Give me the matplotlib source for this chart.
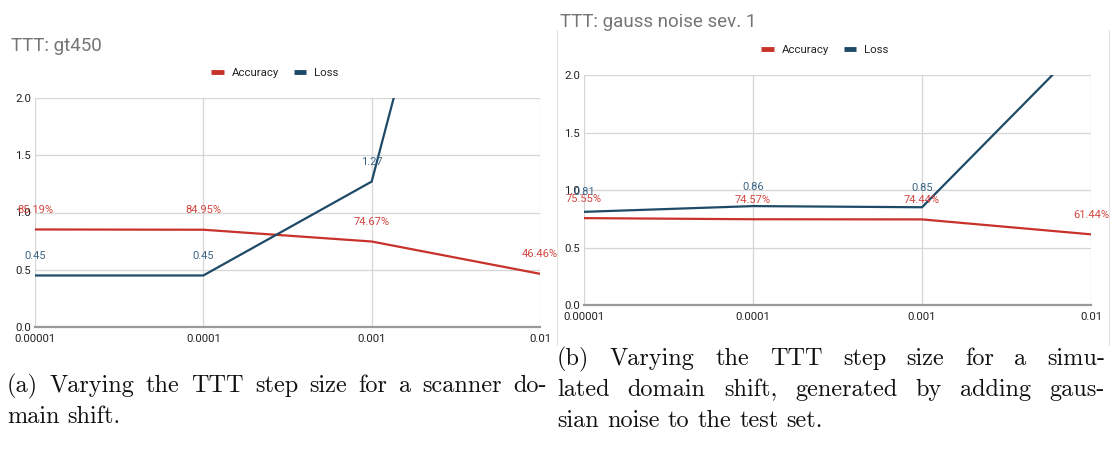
import matplotlib
matplotlib.use("Agg")
import matplotlib.pyplot as plt
from matplotlib.lines import Line2D

# ---------------- data ----------------
steps = ["0.00001", "0.0001", "0.001", "0.01"]
acc_a = [0.8519, 0.8495, 0.7467, 0.4646]
loss_a = [0.45, 0.45, 1.27, 6.85]
acc_b = [0.7555, 0.7457, 0.7444, 0.6144]
loss_b = [0.81, 0.86, 0.85, 2.34]
yticks = [0.0, 0.5, 1.0, 1.5, 2.0]
title_a = "TTT: gt450"
title_b = "TTT: gauss noise sev. 1"
caption_a = ["(a) Varying the TTT step size for a scanner do-", "main shift."]
caption_b = ["(b) Varying the TTT step size for a simu-",
             "lated domain shift, generated by adding gaus-",
             "sian noise to the test set."]

W, H = 1111, 459
fig = plt.figure(figsize=(W / 100, H / 100), dpi=100)
fig.patch.set_facecolor("white")

RED = "#c8322b"
BLUE = "#1e4a68"
RED_T = "#d2463f"
BLUE_T = "#3b6585"
GRID = "#d6d6d6"
CHART_FONT = ["Roboto", "DejaVu Sans"]


def px_ax(l, r, top, bot):
    return [l / W, 1 - bot / H, (r - l) / W, (bot - top) / H]


def draw_panel(rect, acc, loss, title, title_xy, legend_xy):
    ax = fig.add_axes(rect)
    x = list(range(len(steps)))
    ax.set_xlim(0, len(steps) - 1)
    ax.set_ylim(0, 2.0)
    for v in x:
        ax.axvline(v, color=GRID, lw=0.9, zorder=0)
    for v in yticks[1:]:
        ax.axhline(v, color=GRID, lw=0.9, zorder=0)
    ax.axhline(0, color="#9a9a9a", lw=1.6, zorder=1, clip_on=False)
    for s in ax.spines.values():
        s.set_visible(False)
    ax.set_xticks(x)
    ax.set_xticklabels(steps, family=CHART_FONT, fontsize=8.2, color="#222222")
    ax.set_yticks(yticks)
    ax.set_yticklabels([f"{v:.1f}" for v in yticks], family=CHART_FONT,
                       fontsize=8.2, color="#222222")
    ax.tick_params(length=0, pad=3)
    ax.tick_params(axis="x", pad=5)

    ax.plot(x, acc, color=RED, lw=1.6, zorder=3, solid_joinstyle="miter")
    ax.plot(x, loss, color=BLUE, lw=1.6, zorder=3, solid_joinstyle="miter")
    for xi, v in zip(x, acc):
        ax.annotate(f"{v * 100:.2f}%", (xi, v), xytext=(0, 14),
                    textcoords="offset points", ha="center", va="center",
                    fontsize=8, color=RED_T, family=CHART_FONT,
                    annotation_clip=False, zorder=4)
    for xi, v in zip(x, loss):
        if v <= 2.0:
            ax.annotate(f"{v:.2f}", (xi, v), xytext=(0, 14),
                        textcoords="offset points", ha="center", va="center",
                        fontsize=8, color=BLUE_T, family=CHART_FONT,
                        annotation_clip=False, zorder=4)

    fig.text(title_xy[0] / W, 1 - title_xy[1] / H, title, family=CHART_FONT,
             fontsize=13.5, color="#757575", ha="left", va="baseline")

    hA = Line2D([], [], color=RED, lw=3.5, solid_capstyle="butt")
    hL = Line2D([], [], color=BLUE, lw=3.5, solid_capstyle="butt")
    leg = ax.legend([hA, hL], ["Accuracy", "Loss"], loc="center",
                    bbox_to_anchor=(legend_xy[0] / W, 1 - legend_xy[1] / H),
                    bbox_transform=fig.transFigure, ncol=2, frameon=False,
                    prop={"family": CHART_FONT, "size": 8.2},
                    handlelength=1.1, handletextpad=0.7, columnspacing=1.3,
                    borderpad=0, borderaxespad=0)
    for t in leg.get_texts():
        t.set_color("#222222")
    return ax


draw_panel(px_ax(35, 540, 98, 327), acc_a, loss_a, title_a, (11, 51), (275, 73))
draw_panel(px_ax(584, 1091, 75, 305), acc_b, loss_b, title_b, (560, 27), (825, 50))

# faint separators of the screenshot panels
fig.add_artist(Line2D([557 / W, 557 / W], [1 - 30 / H, 1 - 345 / H],
                      transform=fig.transFigure, color="#e4e4e4", lw=0.8))
fig.add_artist(Line2D([1109 / W, 1109 / W], [1 - 30 / H, 1 - 345 / H],
                      transform=fig.transFigure, color="#e4e4e4", lw=0.8))

# ---------------- captions (justified, Computer Modern) ----------------
CAP_FONT = ["cmr10", "DejaVu Serif"]
CAP_SIZE = 17.5
renderer = fig.canvas.get_renderer()


def word_width(word):
    t = fig.text(0, 0, word, family=CAP_FONT, fontsize=CAP_SIZE)
    w = t.get_window_extent(renderer=renderer).width
    t.remove()
    return w


def draw_caption(lines, x0, x1, baselines):
    space = word_width("a b") - word_width("ab")
    for i, (line, yb) in enumerate(zip(lines, baselines)):
        words = line.split(" ")
        last = i == len(lines) - 1
        widths = [word_width(w) for w in words]
        if last or len(words) == 1:
            gap = space
        else:
            gap = (x1 - x0 - sum(widths)) / (len(words) - 1)
        xc = x0
        for w, wd in zip(words, widths):
            fig.text(xc / W, 1 - yb / H, w, family=CAP_FONT, fontsize=CAP_SIZE,
                     color="#111111", ha="left", va="baseline")
            xc += wd + gap


draw_caption(caption_a, 7, 547, [392, 423])
draw_caption(caption_b, 557, 1105, [365, 396, 427])

fig.savefig("out.png", dpi=100, facecolor="white")
